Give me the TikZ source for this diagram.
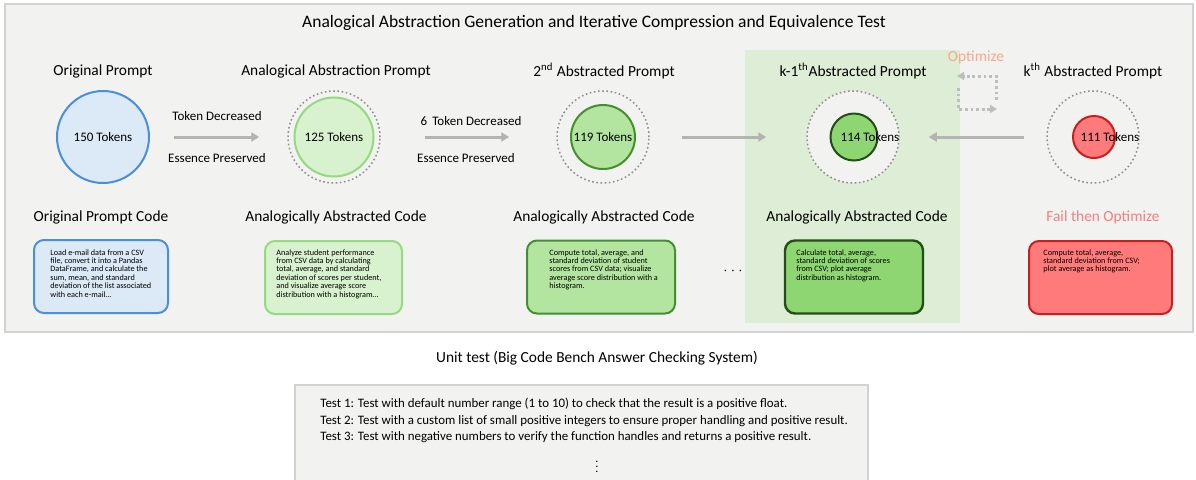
\documentclass[tikz,border=0pt]{standalone}
\usepackage{fontspec}
\setmainfont{Carlito}
\usetikzlibrary{arrows.meta}
\definecolor{panel}{HTML}{F2F2F1}
\definecolor{panelline}{HTML}{D2D2D2}
\definecolor{kzone}{HTML}{DDEDD6}
\definecolor{ringgray}{HTML}{8E8E8E}
\definecolor{arrowgray}{HTML}{B3B3B3}
\definecolor{blueline}{HTML}{4A8FDB}
\definecolor{bluefill}{HTML}{DCE9F7}
\definecolor{paleline}{HTML}{93DA80}
\definecolor{palefill}{HTML}{D8F1CE}
\definecolor{midline}{HTML}{43902F}
\definecolor{midfill}{HTML}{B3E5A0}
\definecolor{deepline}{HTML}{244D18}
\definecolor{deepfill}{HTML}{8DD672}
\definecolor{redline}{HTML}{C81E1E}
\definecolor{redfill}{HTML}{FF7B7B}
\definecolor{failtext}{HTML}{F07F7F}
\definecolor{opttext}{HTML}{F5A98A}
\begin{document}
\begin{tikzpicture}[x=0.5pt,y=-0.5pt,
    title/.style={font=\fontsize{8.75}{10}\selectfont, inner sep=0},
    lbl/.style={font=\fontsize{7.7}{9}\selectfont, inner sep=0},
    tok/.style={font=\fontsize{6.5}{7.5}\selectfont, inner sep=0},
    note/.style={font=\fontsize{6.5}{7.5}\selectfont, inner sep=0},
    ring/.style={circle, draw=ringgray, fill=panel, line width=0.75pt,
      dash pattern=on 0.8pt off 1.3pt, minimum size=46pt, inner sep=0},
    core/.style={circle, line width=1pt, inner sep=0},
    flow/.style={draw=arrowgray, line width=1.5pt,
      -{Triangle[length=4pt,width=4.5pt]}},
    loop/.style={draw=arrowgray!85, line width=1.5pt, dash pattern=on 1.4pt off 1.4pt,
      -{Triangle[length=3.5pt,width=4pt]}},
    codebox/.style={rounded corners=5pt, line width=1pt,
      minimum height=36.5pt, inner sep=0},
    codetxt/.style={font=\fontsize{4.1}{4.2}\selectfont, align=left,
      anchor=north west, inner sep=0}]
  \useasboundingbox (0,0) rectangle (1196,479);

  % panels
  \draw[panelline, fill=panel, line width=1pt] (5,4) rectangle (1193,332);
  \fill[kzone] (745,50) rectangle (960,323);
  \draw[panelline, fill=panel, line width=1pt] (295,385) rectangle (868,490);

  \node[title] (head) at (594,23)
    {Analogical Abstraction Generation and Iterative Compression and Equivalence Test};

  % prompt titles
  \node[lbl] (t0) at (103,71) {Original Prompt};
  \node[lbl] (t1) at (336,71) {Analogical Abstraction Prompt};
  \node[lbl] (t2) at (604,71) {2\textsuperscript{nd} Abstracted Prompt};
  \node[lbl] (t3) at (853,71) {k-1\textsuperscript{th}Abstracted Prompt};
  \node[lbl] (t4) at (1093,71) {k\textsuperscript{th} Abstracted Prompt};

  % token circles
  \node[core, draw=blueline, fill=bluefill, minimum size=46pt, tok] (c0) at (103,137) {150 Tokens};
  \node[ring] (r1) at (334,137) {};
  \node[core, draw=paleline, fill=palefill, minimum size=39.5pt, tok] (c1) at (334,137) {125 Tokens};
  \node[ring] (r2) at (603,137) {};
  \node[core, draw=midline, fill=midfill, minimum size=32pt, tok] (c2) at (603,137) {119 Tokens};
  \node[ring] (r3) at (853,137) {};
  \node[core, draw=deepline, fill=deepfill, minimum size=23.5pt] (c3) at (854,137) {};
  \node[tok] (k3) at (870,137) {114 Tokens};
  \node[ring] (r4) at (1093,137) {};
  \node[core, draw=redline, fill=redfill, minimum size=21pt] (c4) at (1094,137) {};
  \node[tok] (k4) at (1110,137) {111 Tokens};

  % compression steps
  \draw[flow, shorten <=12pt, shorten >=14pt] (c0) -- (r1);
  \node[note] (d1) at (217,116) {Token Decreased};
  \node[note] (e1) at (217,158) {Essence Preserved};
  \draw[flow, shorten <=22pt, shorten >=23.5pt] (r1) -- (r2);
  \node[note] (d2) at (471,121) {6\, Token Decreased};
  \node[note] (e2) at (466,158) {Essence Preserved};
  \draw[flow, shorten <=16pt, shorten >=20pt] (r2) -- (r3);
  \draw[flow, shorten <=11pt, shorten >=14.5pt] (r4) -- (r3);

  % optimize loop
  \coordinate (o1) at (996,100);
  \coordinate (o2) at (996,76);
  \coordinate (o3) at (957,76);
  \coordinate (o4) at (958,88);
  \coordinate (o5) at (958,109);
  \coordinate (o6) at (997,109);
  \draw[loop] (o1) -- (o2) -- (o3);
  \draw[loop] (o4) -- (o5) -- (o6);
  \node[lbl, text=opttext] (opt) at (976,57) {Optimize};

  % code titles
  \node[lbl] (s0) at (101,217) {Original Prompt Code};
  \node[lbl] (s1) at (336,217) {Analogically Abstracted Code};
  \node[lbl] (s2) at (604,217) {Analogically Abstracted Code};
  \node[lbl] (s3) at (857,217) {Analogically Abstracted Code};
  \node[lbl, text=failtext] (s4) at (1103,217) {Fail then Optimize};

  % code boxes
  \node[codebox, draw=blueline, fill=bluefill, minimum width=67pt] (b0) at (101,276.5) {};
  \node[codebox, draw=paleline, fill=palefill, minimum width=68.5pt] (b1) at (333.5,277.5) {};
  \node[codebox, draw=midline, fill=midfill, minimum width=74pt] (b2) at (601,277) {};
  \node[codebox, draw=deepline, fill=deepfill, minimum width=69pt, line width=1.2pt] (b3) at (854,277) {};
  \node[codebox, draw=redline, fill=redfill, minimum width=71.5pt] (b4) at (1100.5,277.5) {};

  \node[codetxt] (x0) at (50,249) {Load e-mail data from a CSV\\file, convert it into a Pandas\\DataFrame, and calculate the\\sum, mean, and standard\\deviation of the list associated\\with each e-mail\ldots};
  \node[codetxt] (x1) at (276,249) {Analyze student performance\\from CSV data by calculating\\total, average, and standard\\deviation of scores per student,\\and visualize average score\\distribution with a histogram\ldots};
  \node[codetxt] (x2) at (549,249) {Compute total, average, and\\standard deviation of student\\scores from CSV data; visualize\\average score distribution with a\\histogram.};
  \node[codetxt] (x3) at (796,249) {Calculate total, average,\\standard deviation of scores\\from CSV; plot average\\distribution as histogram.};
  \node[codetxt] (x4) at (1043,249) {Compute total, average,\\standard deviation from CSV;\\plot average as histogram.};

  \node[inner sep=0, font=\fontsize{7}{8}\selectfont] (gap) at (733,271) {$\cdots$};

  % unit test
  \node[lbl] (u0) at (597,358) {Unit test (Big Code Bench Answer Checking System)};
  \node[anchor=north west, align=left, inner sep=0,
    font=\fontsize{6.45}{8.25}\selectfont] (u1) at (320,398)
    {Test 1: Test with default number range (1 to 10) to check that the result is a positive float.\\
     Test 2: Test with a custom list of small positive integers to ensure proper handling and positive result.\\
     Test 3: Test with negative numbers to verify the function handles and returns a positive result.};
  \node[inner sep=0] (u2) at (597,463) {\scalebox{0.6}{$\vdots$}};
\end{tikzpicture}
\end{document}
